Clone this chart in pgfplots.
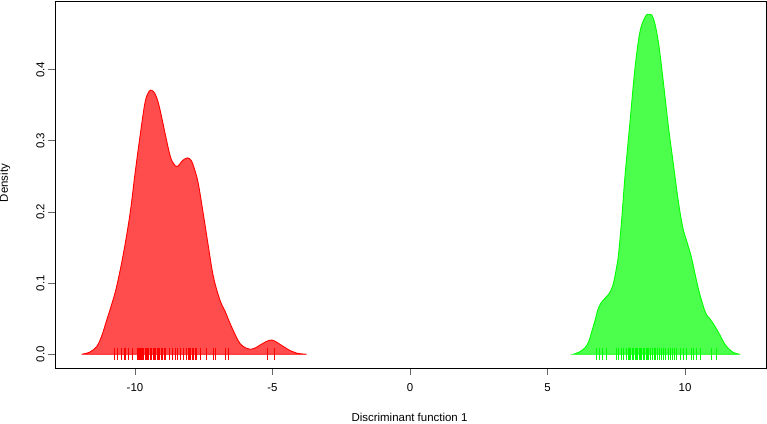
\documentclass[border=0pt]{standalone}
\usepackage{fontspec}
\setmainfont{Liberation Sans}
\usepackage{pgfplots}
\pgfplotsset{compat=1.18}
\definecolor{tickgray}{gray}{0.4}
\begin{document}
\begin{tikzpicture}[x=1bp,y=1bp,font=\fontsize{11.5}{13.8}\selectfont]
\path[use as bounding box] (-55,-55) rectangle (712,368);
\begin{axis}[
  at={(0,0)}, anchor=south west,
  scale only axis, width=711bp, height=367bp,
  xmin=-12.91, xmax=12.945, ymin=-0.0193, ymax=0.4966,
  axis line style={black, line width=0.9bp},
  xtick={-10,-5,0,5,10},
  ytick={0,0.1,0.2,0.3,0.4},
  xtick pos=left, ytick pos=left,
  tick align=outside,
  major tick length=7bp,
  tick style={tickgray, line width=0.9bp},
  /pgf/number format/assume math mode=true,
  yticklabel style={rotate=90, anchor=south, /pgf/number format/.cd, fixed, fixed zerofill, precision=1},
  xticklabel style={anchor=north, yshift=-5bp},
  tick label style={font=\fontsize{11.5}{13.8}\selectfont},
]
% red density
\addplot[draw=red, fill=red, fill opacity=0.7, line width=0.9bp, smooth, tension=0.6] coordinates {
(-11.94,0) (-11.65,0.003) (-11.39,0.011) (-11.20,0.027) (-11.03,0.048) (-10.85,0.070) (-10.67,0.095)
(-10.42,0.142) (-10.18,0.198) (-10.00,0.254) (-9.82,0.306) (-9.64,0.353) (-9.50,0.369) (-9.39,0.371)
(-9.27,0.366) (-9.15,0.353) (-9.03,0.333) (-8.91,0.311) (-8.73,0.280) (-8.60,0.268) (-8.46,0.264)
(-8.28,0.272) (-8.10,0.276) (-7.95,0.272) (-7.82,0.258) (-7.70,0.240) (-7.52,0.198) (-7.33,0.151)
(-7.15,0.109) (-6.91,0.076) (-6.72,0.060) (-6.55,0.044) (-6.35,0.027) (-6.18,0.015) (-5.98,0.009)
(-5.82,0.007) (-5.62,0.009) (-5.45,0.013) (-5.22,0.018) (-5.03,0.020) (-4.85,0.017) (-4.61,0.011)
(-4.35,0.005) (-4.12,0.0015) (-3.76,0)
} \closedcycle;
% green density
\addplot[draw=green, fill=green, fill opacity=0.7, line width=0.9bp, smooth, tension=0.6] coordinates {
(5.94,0) (6.15,0.003) (6.36,0.009) (6.50,0.018) (6.61,0.032) (6.73,0.048) (6.85,0.065) (7.00,0.075)
(7.15,0.081) (7.28,0.088) (7.39,0.099) (7.50,0.120) (7.58,0.140) (7.70,0.191) (7.82,0.252) (8.00,0.327)
(8.18,0.402) (8.36,0.453) (8.55,0.474) (8.69,0.478) (8.85,0.472) (9.03,0.439) (9.21,0.383) (9.39,0.322)
(9.58,0.266) (9.76,0.214) (9.92,0.178) (10.07,0.158) (10.24,0.135) (10.48,0.093) (10.73,0.060)
(10.90,0.050) (11.03,0.043) (11.15,0.035) (11.27,0.027) (11.42,0.016) (11.58,0.008) (11.78,0.002) (12.00,0)
} \closedcycle;
% rugs
\addplot[only marks, mark=|, mark size=6bp, red, mark options={line width=0.8bp}] coordinates {
(-10.75,0) (-10.63,0) (-10.51,0) (-10.40,0) (-10.34,0) (-10.24,0) (-10.10,0)
(-9.92,0) (-9.88,0) (-9.84,0) (-9.80,0) (-9.76,0) (-9.72,0) (-9.68,0) (-9.64,0) (-9.60,0)
(-9.55,0) (-9.50,0) (-9.45,0) (-9.40,0) (-9.35,0) (-9.30,0) (-9.25,0) (-9.20,0) (-9.15,0)
(-9.10,0) (-9.05,0) (-9.00,0) (-8.95,0) (-8.90,0)
(-8.76,0) (-8.64,0) (-8.52,0) (-8.45,0) (-8.34,0) (-8.24,0) (-8.15,0)
(-8.07,0) (-8.02,0) (-7.97,0) (-7.92,0) (-7.87,0) (-7.82,0) (-7.76,0)
(-7.64,0) (-7.42,0) (-7.15,0) (-7.07,0) (-6.70,0) (-6.61,0) (-5.18,0) (-4.93,0)
};
\addplot[only marks, mark=|, mark size=6bp, green, mark options={line width=0.8bp}] coordinates {
(6.76,0) (6.88,0) (6.99,0) (7.15,0) (7.52,0) (7.59,0) (7.70,0) (7.76,0)
(7.88,0) (7.93,0) (7.98,0) (8.03,0) (8.08,0) (8.13,0) (8.18,0) (8.23,0) (8.28,0) (8.33,0)
(8.38,0) (8.43,0) (8.48,0) (8.53,0) (8.58,0) (8.63,0) (8.68,0) (8.73,0) (8.80,0) (8.87,0)
(8.94,0) (9.01,0) (9.08,0) (9.15,0) (9.22,0) (9.30,0) (9.38,0) (9.46,0) (9.55,0) (9.63,0) (9.70,0)
(9.84,0) (9.94,0) (10.04,0) (10.22,0) (10.30,0) (10.42,0) (10.55,0) (10.95,0) (11.13,0)
};
\end{axis}
\node[rotate=90] at (-50,185) {Density};
\node at (354.5,-49.5) {Discriminant function 1};
\end{tikzpicture}
\end{document}
